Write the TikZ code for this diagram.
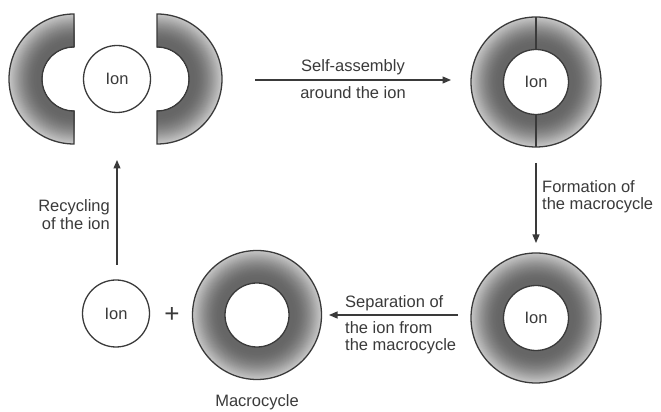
\documentclass[tikz,border=0pt]{standalone}
\usepackage{fontspec}
\setmainfont{Liberation Sans}
\usetikzlibrary{arrows.meta}
\definecolor{ink}{HTML}{3A3A3A}
% concentric grey bands: light at the outer rim, dark towards the hole
\newcommand{\myringfill}[4]{%
  \foreach \i in {0,...,40} {%
    \pgfmathsetmacro{\rr}{#3-\i*(#3-#4)/40}%
    \pgfmathsetmacro{\cc}{22+38*sin(100*\i/40)}%
    \fill[black!\cc] (#1,#2) circle (\rr);%
  }%
  \fill[white] (#1,#2) circle (#4);%
}
\begin{document}
\begin{tikzpicture}[x=1pt,y=1pt,
  lbl/.style={text=ink, font=\fontsize{16.5}{17.5}\selectfont, inner sep=0pt},
  outl/.style={draw=ink, line width=1.3pt},
  arr/.style={draw=ink, line width=1.2pt, -{Triangle[length=8.5pt,width=7pt]}},
  ion/.style={circle, draw=ink, line width=1.3pt, minimum size=67pt, inner sep=0pt, text=ink, font=\fontsize{16.5}{17.5}\selectfont}]
\useasboundingbox (0,0) rectangle (661,412);

% ---- top left: two half rings + ion
\begin{scope}
  \clip (74,398) arc[start angle=90, end angle=270, radius=65] -- (74,301)
        arc[start angle=270, end angle=90, radius=32] -- cycle;
  \myringfill{74}{333}{65}{32}
\end{scope}
\draw[outl] (74,398) arc[start angle=90, end angle=270, radius=65] -- (74,301)
        arc[start angle=270, end angle=90, radius=32] -- cycle;
\begin{scope}
  \clip (157,398) arc[start angle=90, end angle=-90, radius=65] -- (157,301)
        arc[start angle=-90, end angle=90, radius=32] -- cycle;
  \myringfill{157}{333}{65}{32}
\end{scope}
\draw[outl] (157,398) arc[start angle=90, end angle=-90, radius=65] -- (157,301)
        arc[start angle=-90, end angle=90, radius=32] -- cycle;
\node[ion] (ion1) at (117,333) {Ion};

% ---- top right: assembled ring
\coordinate (ctr) at (536,330);
\myringfill{536}{330}{65}{32.5}
\draw[outl] (ctr) circle (65);
\draw[outl] (ctr) circle (32.5);
\draw[outl] (536,362.5) -- (536,395);
\draw[outl] (536,297.5) -- (536,265);
\node[ion, draw=none] (ion2) at (ctr) {Ion};

% ---- bottom right: macrocycle with ion
\coordinate (cbr) at (536,94);
\myringfill{536}{94}{65}{32.5}
\draw[outl] (cbr) circle (65);
\draw[outl] (cbr) circle (32.5);
\node[ion, draw=none] (ion3) at (cbr) {Ion};

% ---- bottom middle: free macrocycle
\coordinate (cm) at (257,97);
\myringfill{257}{97}{64.5}{32}
\draw[outl] (cm) circle (64.5);
\draw[outl] (cm) circle (32);
\node[lbl] (maclbl) at (257,10) {Macrocycle};

% ---- bottom left: ion + plus
\node[ion] (ion4) at (116,98.5) {Ion};
\node[lbl, font=\fontsize{26}{26}\selectfont] (plus) at (172,97) {+};

% ---- arrows
\coordinate (a1s) at (255,332);
\coordinate (a1e) at (451,332);
\draw[arr] (a1s) -- (a1e);
\node[lbl] (t1a) at (353,345) {Self-assembly};
\node[lbl] (t1b) at (353,319) {around the ion};

\coordinate (a2s) at (536,249);
\coordinate (a2e) at (536,169);
\draw[arr] (a2s) -- (a2e);
\node[lbl, anchor=west, align=left] (t2) at (542,215.5) {Formation of\\the macrocycle};

\coordinate (a3s) at (458,97);
\coordinate (a3e) at (329,97);
\draw[arr] (a3s) -- (a3e);
\node[lbl, anchor=west] (t3a) at (345,109) {Separation of};
\node[lbl, anchor=west, align=left] (t3b) at (345,74.5) {the ion from\\the macrocycle};

\coordinate (a4s) at (117,147);
\coordinate (a4e) at (117,252);
\draw[arr] (a4s) -- (a4e);
\node[lbl, anchor=east, align=right] (t4) at (110,197.5) {Recycling\\of the ion};
\end{tikzpicture}
\end{document}
